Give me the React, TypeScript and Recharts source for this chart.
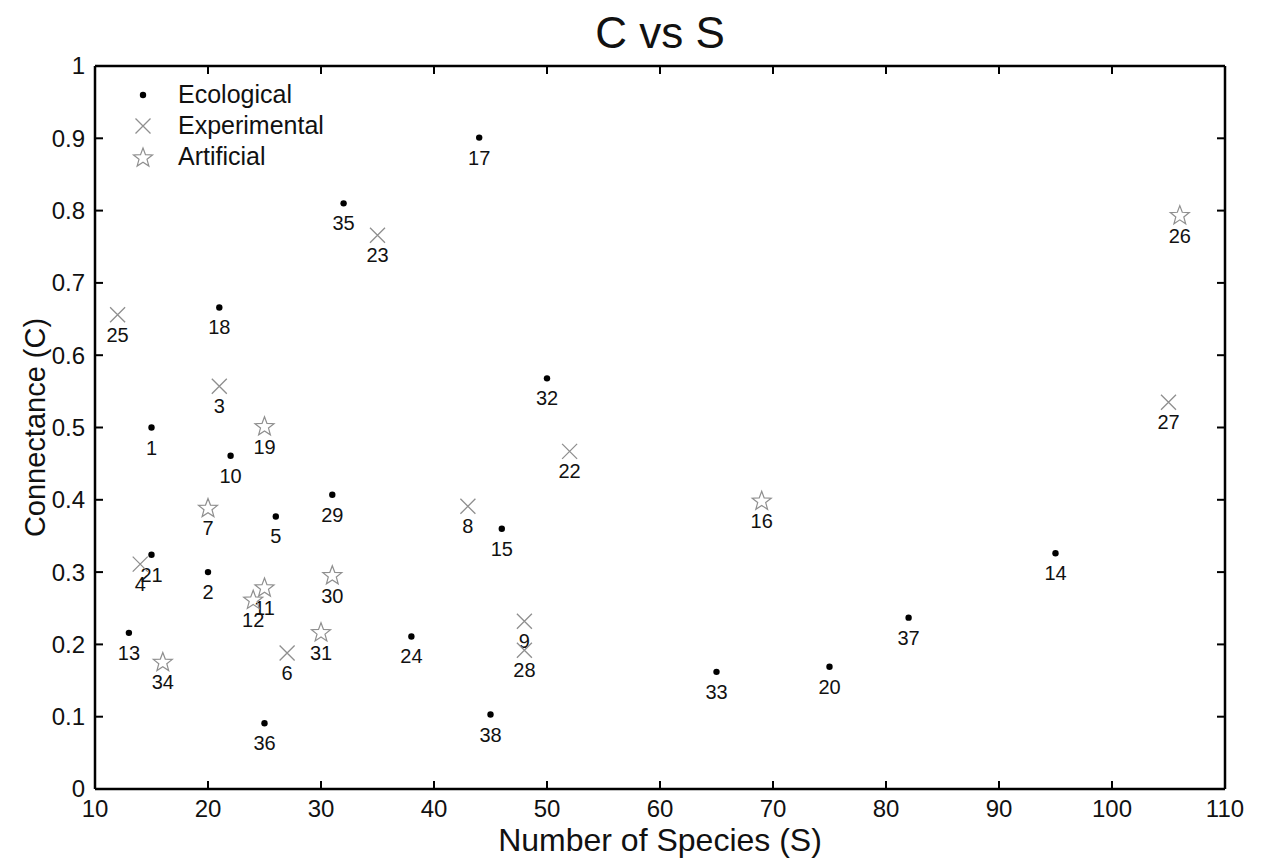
import React from 'react';
import { ScatterChart, Scatter, XAxis, YAxis, ReferenceLine, Label } from 'recharts';

// ─── Data ──────────────────────────────────────────────────────────────────
const ecoIds = [1, 2, 5, 10, 13, 14, 15, 17, 18, 20, 21, 24, 29, 32, 33, 35, 36, 37, 38];
const ecoS = [15, 20, 26, 22, 13, 95, 46, 44, 21, 75, 15, 38, 31, 50, 65, 32, 25, 82, 45];
const ecoC = [0.5, 0.3, 0.377, 0.461, 0.216, 0.326, 0.36, 0.901, 0.666, 0.169, 0.324, 0.211, 0.407, 0.568, 0.162, 0.81, 0.091, 0.237, 0.103];

const expIds = [3, 4, 6, 8, 9, 22, 23, 25, 27, 28];
const expS = [21, 14, 27, 43, 48, 52, 35, 12, 105, 48];
const expC = [0.557, 0.311, 0.188, 0.391, 0.232, 0.467, 0.766, 0.656, 0.535, 0.192];

const artIds = [7, 11, 12, 16, 19, 26, 30, 31, 34];
const artS = [20, 25, 24, 69, 25, 106, 31, 30, 16];
const artC = [0.388, 0.278, 0.261, 0.398, 0.501, 0.793, 0.295, 0.216, 0.175];

const xTicks = [10, 20, 30, 40, 50, 60, 70, 80, 90, 100, 110];
const yTicks = [0, 0.1, 0.2, 0.3, 0.4, 0.5, 0.6, 0.7, 0.8, 0.9, 1];

const build = (ids: number[], s: number[], c: number[]) =>
  ids.map((id, i) => ({ id, S: s[i], C: c[i] }));

const ecoData = build(ecoIds, ecoS, ecoC);
const expData = build(expIds, expS, expC);
const artData = build(artIds, artS, artC);

// ─── Layout ────────────────────────────────────────────────────────────────
const W = 1262;
const H = 861;
const PLOT_LEFT = 95;
const PLOT_RIGHT = 1225;
const PLOT_TOP = 66;
const PLOT_BOTTOM = 789;
const FONT = '"Liberation Sans", Arial, Helvetica, sans-serif';
const GRAY = '#8f8f8f';
const TICK = 8;

const starPoints = (cx: number, cy: number, ro: number, ri: number) => {
  const pts: string[] = [];
  for (let k = 0; k < 10; k++) {
    const r = k % 2 === 0 ? ro : ri;
    const a = -Math.PI / 2 + (k * Math.PI) / 5;
    pts.push(`${cx + r * Math.cos(a)},${cy + r * Math.sin(a)}`);
  }
  return pts.join(' ');
};

const PointLabel = ({ cx, cy, id }: { cx: number; cy: number; id: number }) => (
  <text x={cx} y={cy + 27} textAnchor="middle" fontSize={20} fontFamily={FONT} fill="#111">
    {id}
  </text>
);

const DotShape = (props: any) => {
  const { cx, cy, payload } = props;
  return (
    <g>
      <circle cx={cx} cy={cy} r={3.2} fill="#000" />
      <PointLabel cx={cx} cy={cy} id={payload.id} />
    </g>
  );
};

const CrossShape = (props: any) => {
  const { cx, cy, payload } = props;
  const d = 7.5;
  return (
    <g>
      <path d={`M${cx - d},${cy - d}L${cx + d},${cy + d}M${cx - d},${cy + d}L${cx + d},${cy - d}`} stroke={GRAY} strokeWidth={1.3} fill="none" />
      <PointLabel cx={cx} cy={cy} id={payload.id} />
    </g>
  );
};

const StarShape = (props: any) => {
  const { cx, cy, payload } = props;
  return (
    <g>
      <polygon points={starPoints(cx, cy, 10, 4.2)} stroke={GRAY} strokeWidth={1.2} fill="none" />
      <PointLabel cx={cx} cy={cy} id={payload.id} />
    </g>
  );
};

// ticks point inward, on both sides of the box
const XTick = (props: any) => {
  const { x, y, payload } = props;
  return (
    <g>
      <line x1={x} y1={y} x2={x} y2={y - TICK} stroke="#000" strokeWidth={2} />
      <line x1={x} y1={PLOT_TOP} x2={x} y2={PLOT_TOP + TICK} stroke="#000" strokeWidth={2} />
      <text x={x} y={y + 28} textAnchor="middle" fontSize={24} fontFamily={FONT} fill="#111">
        {payload.value}
      </text>
    </g>
  );
};

const YTick = (props: any) => {
  const { x, y, payload } = props;
  return (
    <g>
      <line x1={x} y1={y} x2={x + TICK} y2={y} stroke="#000" strokeWidth={2} />
      <line x1={PLOT_RIGHT} y1={y} x2={PLOT_RIGHT - TICK} y2={y} stroke="#000" strokeWidth={2} />
      <text x={x - 10} y={y} dy="0.35em" textAnchor="end" fontSize={24} fontFamily={FONT} fill="#111">
        {payload.value}
      </text>
    </g>
  );
};

const LegendBox = () => {
  const rows = [
    { name: 'Ecological', icon: <circle cx={12} cy={12} r={3.2} fill="#000" /> },
    {
      name: 'Experimental',
      icon: <path d="M4.5,4.5L19.5,19.5M4.5,19.5L19.5,4.5" stroke={GRAY} strokeWidth={1.3} fill="none" />,
    },
    { name: 'Artificial', icon: <polygon points={starPoints(12, 13, 10, 4.2)} stroke={GRAY} strokeWidth={1.2} fill="none" /> },
  ];
  return (
    <div style={{ position: 'absolute', left: 131, top: 79, fontFamily: FONT, fontSize: 25, color: '#111' }}>
      {rows.map((r) => (
        <div key={r.name} style={{ display: 'flex', alignItems: 'center', height: 31 }}>
          <svg width={24} height={24} style={{ marginRight: 23 }}>
            {r.icon}
          </svg>
          <span>{r.name}</span>
        </div>
      ))}
    </div>
  );
};

const XTitle = (props: any) => {
  const { viewBox } = props;
  return (
    <text x={viewBox.x + viewBox.width / 2} y={851} textAnchor="middle" fontSize={32} fontFamily={FONT} fill="#111">
      Number of Species (S)
    </text>
  );
};

const YTitle = () => (
  <text
    x={0}
    y={0}
    transform={`translate(45, ${(PLOT_TOP + PLOT_BOTTOM) / 2}) rotate(-90)`}
    textAnchor="middle"
    fontSize={29}
    fontFamily={FONT}
    fill="#111"
  >
    Connectance (C)
  </text>
);

export default function App() {
  return (
    <div style={{ position: 'absolute', left: 0, top: 0, width: W, height: H, background: '#fff' }}>
      <div
        style={{
          position: 'absolute',
          left: PLOT_LEFT,
          width: PLOT_RIGHT - PLOT_LEFT,
          top: 8,
          textAlign: 'center',
          fontFamily: FONT,
          fontSize: 44,
          color: '#111',
          lineHeight: '50px',
        }}
      >
        C vs S
      </div>
      <ScatterChart width={W} height={H} margin={{ top: PLOT_TOP, right: W - PLOT_RIGHT, bottom: 0, left: 0 }}>
        <XAxis
          type="number"
          dataKey="S"
          domain={[10, 110]}
          ticks={xTicks}
          interval={0}
          height={H - PLOT_BOTTOM}
          tickSize={0}
          tickMargin={0}
          tickLine={false}
          axisLine={{ stroke: '#000', strokeWidth: 2.5 }}
          tick={<XTick />}
          allowDataOverflow
        >
          <Label content={<XTitle />} />
        </XAxis>
        <YAxis
          type="number"
          dataKey="C"
          domain={[0, 1]}
          ticks={yTicks}
          interval={0}
          width={PLOT_LEFT}
          tickSize={0}
          tickMargin={0}
          tickLine={false}
          axisLine={{ stroke: '#000', strokeWidth: 2.5 }}
          tick={<YTick />}
          allowDataOverflow
        >
          <Label content={<YTitle />} />
        </YAxis>
        <ReferenceLine y={1} stroke="#000" strokeWidth={2.5} ifOverflow="visible" />
        <ReferenceLine x={110} stroke="#000" strokeWidth={2.5} ifOverflow="visible" />
        <Scatter name="Ecological" data={ecoData} shape={<DotShape />} isAnimationActive={false} />
        <Scatter name="Experimental" data={expData} shape={<CrossShape />} isAnimationActive={false} />
        <Scatter name="Artificial" data={artData} shape={<StarShape />} isAnimationActive={false} />
      </ScatterChart>
      <LegendBox />
    </div>
  );
}
